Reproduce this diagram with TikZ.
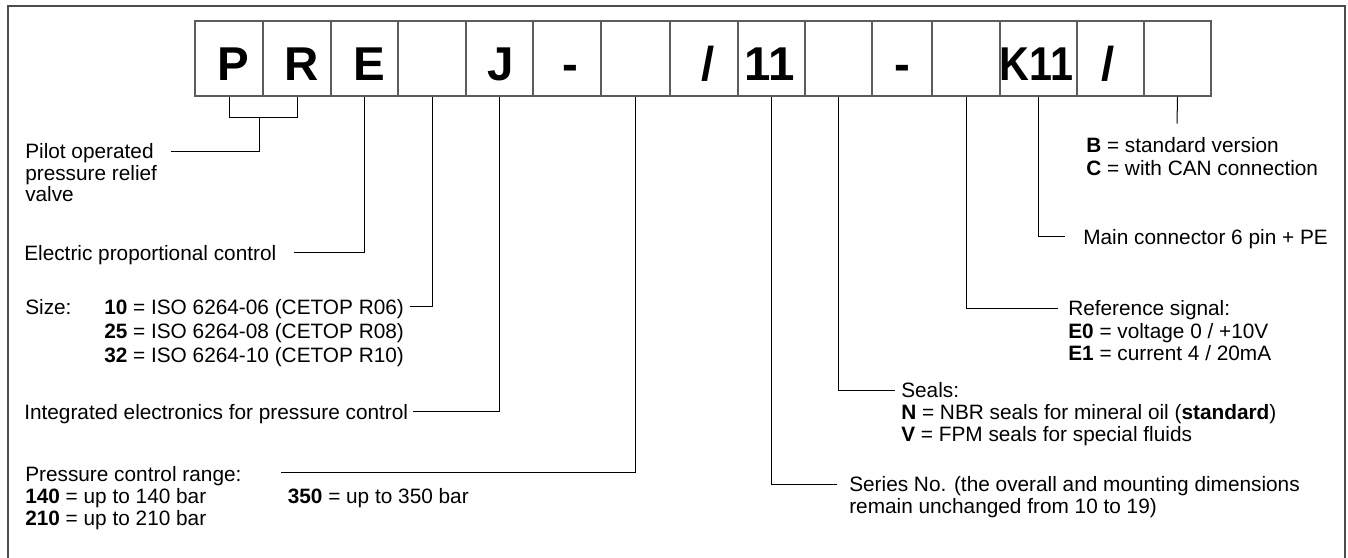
\documentclass[tikz,border=0pt]{standalone}
\usepackage{fontspec}
\usepackage{graphicx}
\setmainfont{Liberation Sans}
\definecolor{boxgray}{rgb}{0.36,0.36,0.36}
\definecolor{framegray}{rgb}{0.3,0.3,0.3}
\newcommand{\descfont}{\fontsize{15.6}{16.5}\selectfont}
\newcommand{\codefont}{\fontsize{35.6}{36}\selectfont\bfseries}

\begin{document}
\begin{tikzpicture}[x=0.75pt, y=-0.75pt,
    codebox/.style={draw=boxgray, line width=1.05pt, minimum height=56.25pt, inner sep=0pt},
    code/.style={anchor=base, inner sep=0pt, font=\codefont},
    desc/.style={anchor=base west, inner sep=0pt, font=\descfont},
    lead/.style={black, line width=0.75pt}]
        \useasboundingbox (0,0) rectangle (1348,557);
        \draw[framegray, line width=1.3pt] (8,6) rectangle (1345,580);

        % code boxes and their letters
        \foreach \l/\r/\dx/\txt/\nm in {195/263/4/P/bP, 263/331/5/R/bR, 331/398/5/E/bE,
            398/466/0//bSize, 466/533/1.5/J/bJ, 533/601/3.5/-/bDashA, 601/670/0//bRange,
            670/738/4/{/}/bSlashA, 738/805/-2/11/bSer, 805/872/0//bSeal,
            872/932/0/-/bDashB, 932/1000/0//bRef, 1000/1077/-2/{\scalebox{0.87}[1]{K11}}/bK,
            1077/1144/-2/{/}/bSlashB, 1144/1211/0//bVer}
        {
            \node[codebox, minimum width={(\r-\l)*0.75pt}] (\nm) at ({(\l+\r)/2},58.5) {};
            \node[code] (\nm-t) at ({(\l+\r)/2+\dx},80) {\txt};
        }

        % leader ends
        \coordinate (brk) at (259,117.3);
        \coordinate (lPR) at (171,151.7);
        \coordinate (lE) at (294,252.3);
        \coordinate (lSize) at (410,306.7);
        \coordinate (lJ) at (413,411.7);
        \coordinate (lRange) at (281,472.7);
        \coordinate (lSer) at (837,484);
        \coordinate (lSeal) at (895,390);
        \coordinate (lRef) at (1058,308.3);
        \coordinate (lK) at (1065,236);
        \coordinate (lVer) at (1177,123.5);

        \draw[lead] (bP.south) |- (brk) -| (bR.south);
        \draw[lead] (brk) |- (lPR);
        \draw[lead] (bE.south) |- (lE);
        \draw[lead] (bSize.south) |- (lSize);
        \draw[lead] (bJ.south) |- (lJ);
        \draw[lead] (bRange.south) |- (lRange);
        \draw[lead] (bSer.south) |- (lSer);
        \draw[lead] (bSeal.south) |- (lSeal);
        \draw[lead] (bRef.south) |- (lRef);
        \draw[lead] (bK.south) |- (lK);
        \draw[lead] (bVer.south) -- (lVer);

        % left texts
        \node[desc] (tPRa) at (25,158.5) {Pilot operated};
        \node[desc] (tPRb) at (25,180.2) {pressure relief};
        \node[desc] (tPRc) at (25,201.9) {valve};
        \node[desc] (tE) at (24,260.5) {Electric proportional control};
        \node[desc] (tSize) at (25,314.4) {Size:};
        \node[desc] (tSizeA) at (104,314.4) {\textbf{10} = ISO 6264-06 (CETOP R06)};
        \node[desc] (tSizeB) at (104,338.5) {\textbf{25} = ISO 6264-08 (CETOP R08)};
        \node[desc] (tSizeC) at (104,362.6) {\textbf{32} = ISO 6264-10 (CETOP R10)};
        \node[desc] (tJ) at (24,419.5) {Integrated electronics for pressure control};
        \node[desc] (tRange) at (25,481) {Pressure control range:};
        \node[desc] (tRangeA) at (25,503.6) {\textbf{140} = up to 140 bar};
        \node[desc] (tRangeB) at (25,525.3) {\textbf{210} = up to 210 bar};
        \node[desc] (tRangeC) at (287.5,503.6) {\textbf{350} = up to 350 bar};

        % right texts
        \node[desc] (tVerA) at (1086,152.3) {\textbf{B} = standard version};
        \node[desc] (tVerB) at (1086,175) {\textbf{C} = with CAN connection};
        \node[desc] (tK) at (1083,244) {Main connector 6 pin + PE};
        \node[desc] (tRef) at (1068,315.5) {Reference signal:};
        \node[desc] (tRefA) at (1068,338) {\textbf{E0} = voltage 0 / +10V};
        \node[desc] (tRefB) at (1068,360.3) {\textbf{E1} = current 4 / 20mA};
        \node[desc] (tSeal) at (901,397.5) {Seals:};
        \node[desc] (tSealA) at (901,419.6) {\textbf{N} = NBR seals for mineral oil (\textbf{standard})};
        \node[desc] (tSealB) at (901,441.8) {\textbf{V} = FPM seals for special fluids};
        \node[desc] (tSer) at (849,491.7) {Series No. (the overall and mounting dimensions};
        \node[desc] (tSerB) at (849,513.6) {remain unchanged from 10 to 19)};
    \end{tikzpicture}
\end{document}
